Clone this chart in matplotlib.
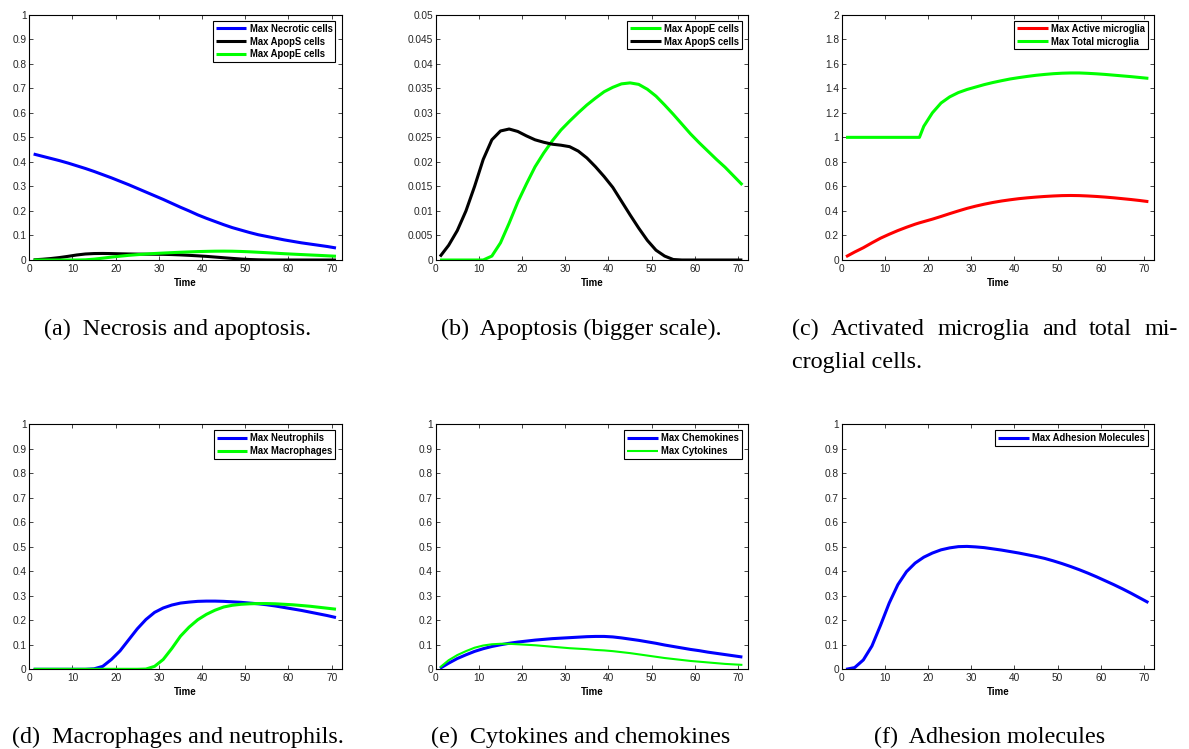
import matplotlib
matplotlib.use("Agg")
import matplotlib.pyplot as plt
from matplotlib.ticker import FixedLocator, FuncFormatter

# ---------------------------------------------------------------- data
TIME = [1, 3, 5, 7, 9, 11, 13, 15, 17, 19, 21, 23, 25, 27, 29, 31, 33, 35,
        37, 39, 41, 43, 45, 47, 49, 51, 53, 55, 57, 59, 61, 63, 65, 67, 69, 71]

# microglia series are sampled on a grid that also contains the onset day 18
MICROGLIA_TIME = [1, 3, 5, 7, 9, 11, 13, 15, 17, 18, 19, 21, 23, 25, 27, 29,
                  31, 33, 35, 37, 39, 41, 43, 45, 47, 49, 51, 53, 55, 57, 59,
                  61, 63, 65, 67, 69, 71]

NECROTIC = [0.432, 0.423, 0.414, 0.405, 0.395, 0.384, 0.373, 0.361, 0.348,
            0.335, 0.321, 0.307, 0.292, 0.277, 0.262, 0.247, 0.231, 0.215,
            0.200, 0.184, 0.170, 0.157, 0.144, 0.132, 0.122, 0.112, 0.103,
            0.096, 0.089, 0.082, 0.076, 0.070, 0.065, 0.060, 0.055, 0.049]

APOP_S = [0.0007, 0.0030, 0.0060, 0.0100, 0.0150, 0.0205, 0.0245, 0.0263,
          0.0267, 0.0262, 0.0253, 0.0245, 0.0240, 0.0236, 0.0234, 0.0231,
          0.0222, 0.0208, 0.0190, 0.0170, 0.0148, 0.0120, 0.0092, 0.0065,
          0.0040, 0.0020, 0.0008, 0.0001, 0.0, 0.0, 0.0, 0.0, 0.0, 0.0, 0.0, 0.0]

APOP_E = [0.0, 0.0, 0.0, 0.0, 0.0, 0.0, 0.0008, 0.0035, 0.0075, 0.0118,
          0.0155, 0.0190, 0.0218, 0.0243, 0.0265, 0.0283, 0.0300, 0.0316,
          0.0330, 0.0343, 0.0352, 0.0359, 0.0361, 0.0358, 0.0348, 0.0334,
          0.0316, 0.0297, 0.0277, 0.0257, 0.0239, 0.0222, 0.0205, 0.0189,
          0.0171, 0.0153]

ACTIVE_MICROGLIA = [0.027, 0.065, 0.100, 0.140, 0.178, 0.210, 0.240, 0.267,
                    0.292, 0.303, 0.313, 0.333, 0.355, 0.378, 0.400, 0.421,
                    0.439, 0.455, 0.469, 0.481, 0.491, 0.500, 0.507, 0.513,
                    0.518, 0.522, 0.525, 0.526, 0.525, 0.522, 0.518, 0.513,
                    0.507, 0.500, 0.493, 0.485, 0.476]

TOTAL_MICROGLIA = [1.0, 1.0, 1.0, 1.0, 1.0, 1.0, 1.0, 1.0, 1.0, 1.0, 1.09,
                   1.20, 1.28, 1.33, 1.365, 1.39, 1.41, 1.43, 1.447, 1.462,
                   1.476, 1.487, 1.497, 1.506, 1.513, 1.519, 1.523, 1.525,
                   1.525, 1.522, 1.518, 1.513, 1.507, 1.501, 1.495, 1.488,
                   1.481]

NEUTROPHILS = [0.0, 0.0, 0.0, 0.0, 0.0, 0.0, 0.0, 0.002, 0.012, 0.040, 0.075,
               0.120, 0.165, 0.203, 0.232, 0.250, 0.262, 0.270, 0.274, 0.277,
               0.278, 0.278, 0.277, 0.275, 0.273, 0.270, 0.267, 0.263, 0.258,
               0.252, 0.246, 0.240, 0.233, 0.226, 0.219, 0.211]

MACROPHAGES = [0.0, 0.0, 0.0, 0.0, 0.0, 0.0, 0.0, 0.0, 0.0, 0.0, 0.0, 0.0,
               0.0, 0.001, 0.012, 0.040, 0.085, 0.135, 0.172, 0.202, 0.224,
               0.241, 0.254, 0.261, 0.265, 0.267, 0.268, 0.268, 0.267, 0.265,
               0.263, 0.260, 0.257, 0.253, 0.249, 0.245]

CHEMOKINES = [0.004, 0.025, 0.044, 0.059, 0.073, 0.084, 0.093, 0.100, 0.106,
              0.111, 0.115, 0.119, 0.122, 0.125, 0.127, 0.129, 0.131, 0.133,
              0.134, 0.134, 0.132, 0.128, 0.123, 0.118, 0.112, 0.106, 0.099,
              0.093, 0.087, 0.081, 0.076, 0.070, 0.065, 0.060, 0.055, 0.050]

CYTOKINES = [0.008, 0.037, 0.058, 0.074, 0.088, 0.097, 0.102, 0.104, 0.104,
             0.102, 0.100, 0.098, 0.095, 0.092, 0.089, 0.086, 0.084, 0.082,
             0.079, 0.077, 0.074, 0.070, 0.066, 0.061, 0.056, 0.051, 0.046,
             0.042, 0.038, 0.034, 0.031, 0.028, 0.025, 0.022, 0.020, 0.018]

ADHESION = [0.0, 0.007, 0.038, 0.095, 0.180, 0.270, 0.345, 0.398, 0.433,
            0.457, 0.474, 0.487, 0.495, 0.500, 0.501, 0.499, 0.496, 0.491,
            0.486, 0.480, 0.474, 0.467, 0.460, 0.452, 0.442, 0.431, 0.419,
            0.406, 0.392, 0.377, 0.361, 0.345, 0.328, 0.310, 0.291, 0.272]

X_TICKS = [0, 10, 20, 30, 40, 50, 60, 70]
Y_TICKS_UNIT = [0, 0.1, 0.2, 0.3, 0.4, 0.5, 0.6, 0.7, 0.8, 0.9, 1]
Y_TICKS_APOP = [0, 0.005, 0.01, 0.015, 0.02, 0.025, 0.03, 0.035, 0.04, 0.045, 0.05]
Y_TICKS_MICROGLIA = [0, 0.2, 0.4, 0.6, 0.8, 1, 1.2, 1.4, 1.6, 1.8, 2]

CAPTIONS = ["(a)  Necrosis and apoptosis.",
            "(b)  Apoptosis (bigger scale).",
            None,
            "(d)  Macrophages and neutrophils.",
            "(e)  Cytokines and chemokines",
            "(f)  Adhesion molecules"]
CAPTION_C_LINE1 = ["(c)", "Activated", "microglia", "and", "total", "mi-"]
CAPTION_C_LINE2 = "croglial cells."

# ---------------------------------------------------------------- styling
W, H = 1189, 749
BLUE, GREEN, BLACK, RED = "#0000ff", "#00ff00", "#000000", "#ff0000"
TICK_FONT = dict(family="Liberation Sans", size=7.3)
LEGEND_FONT = dict(family="Liberation Sans", weight="bold", size=6.85)
CAPTION_FONT = dict(family="Liberation Serif", size=17.4)
THICK, THIN = 2.2, 1.5

fig = plt.figure(figsize=(W / 100, H / 100), dpi=100)
fig.patch.set_facecolor("white")

COL_LEFT = [29.3, 435.7, 841.7]
ROW_TOP = [14.7, 424.0]
AX_W, AX_H = 312.3, 245.3


def make_axes(col, row):
    left = COL_LEFT[col] / W
    bottom = 1 - (ROW_TOP[row] + AX_H) / H
    return fig.add_axes([left, bottom, AX_W / W, AX_H / H])


def style_axes(ax, yticks, ymax):
    ax.set_xlim(0, 72.3)
    ax.set_ylim(0, ymax)
    ax.xaxis.set_major_locator(FixedLocator(X_TICKS))
    ax.yaxis.set_major_locator(FixedLocator(yticks))
    ax.yaxis.set_major_formatter(FuncFormatter(lambda v, p: "%g" % round(v, 4)))
    ax.tick_params(direction="in", top=True, right=True, length=3.2,
                   width=0.6, colors="#262626", labelsize=TICK_FONT["size"])
    ax.tick_params(axis="x", pad=3.0)
    ax.tick_params(axis="y", pad=2.0)
    for lab in ax.get_xticklabels() + ax.get_yticklabels():
        lab.set_family(TICK_FONT["family"])
    for sp in ax.spines.values():
        sp.set_linewidth(0.8)
        sp.set_color("black")
    ax.set_xlabel("Time", family="Liberation Sans", weight="bold", size=7.0,
                  labelpad=2.5, color="black")


def add_legend(ax):
    leg = ax.legend(loc="upper right", prop=LEGEND_FONT, frameon=True,
                    fancybox=False, framealpha=1.0, edgecolor="black",
                    handlelength=3.2, handletextpad=0.35, labelspacing=0.3,
                    borderpad=0.3, borderaxespad=0.65)
    leg.get_frame().set_linewidth(0.8)
    return leg


panels = [
    (0, 0, Y_TICKS_UNIT, 1.0, TIME,
     [(NECROTIC, BLUE, THICK, "Max Necrotic cells"),
      (APOP_S, BLACK, THICK, "Max ApopS cells"),
      (APOP_E, GREEN, THICK, "Max ApopE cells")]),
    (1, 0, Y_TICKS_APOP, 0.05, TIME,
     [(APOP_E, GREEN, THICK, "Max ApopE cells"),
      (APOP_S, BLACK, THICK, "Max ApopS cells")]),
    (2, 0, Y_TICKS_MICROGLIA, 2.0, MICROGLIA_TIME,
     [(ACTIVE_MICROGLIA, RED, THICK, "Max Active microglia"),
      (TOTAL_MICROGLIA, GREEN, THICK, "Max Total microglia")]),
    (0, 1, Y_TICKS_UNIT, 1.0, TIME,
     [(NEUTROPHILS, BLUE, THICK, "Max Neutrophils"),
      (MACROPHAGES, GREEN, THICK, "Max Macrophages")]),
    (1, 1, Y_TICKS_UNIT, 1.0, TIME,
     [(CHEMOKINES, BLUE, THICK, "Max Chemokines"),
      (CYTOKINES, GREEN, THIN, "Max Cytokines")]),
    (2, 1, Y_TICKS_UNIT, 1.0, TIME,
     [(ADHESION, BLUE, THICK, "Max Adhesion Molecules")]),
]

for col, row, yticks, ymax, tvals, series in panels:
    ax = make_axes(col, row)
    for values, color, lw, label in series:
        ax.plot(tvals, values, color=color, lw=lw, label=label,
                solid_capstyle="butt", solid_joinstyle="round")
    style_axes(ax, yticks, ymax)
    leg = add_legend(ax)
    for line, (_, _, lw, _) in zip(leg.get_lines(), series):
        line.set_linewidth(lw)

# ---------------------------------------------------------------- captions
CAPTION_CENTERS = [177.5, 581.0, 990.0]
CAPTION_BASELINES = [335.0, 743.0]

for i, text in enumerate(CAPTIONS):
    if text is None:
        continue
    col, row = i % 3, i // 3
    fig.text(CAPTION_CENTERS[col] / W, 1 - CAPTION_BASELINES[row] / H, text,
             ha="center", va="baseline", **CAPTION_FONT)

# caption (c) is set as a justified paragraph over two lines
c_left, c_right = 792.0, 1178.0
renderer = fig.canvas.get_renderer()
words = [fig.text(0, 1 - CAPTION_BASELINES[0] / H, w, ha="left",
                  va="baseline", **CAPTION_FONT) for w in CAPTION_C_LINE1]
widths = [w.get_window_extent(renderer).width for w in words]
gap = (c_right - c_left - sum(widths)) / (len(words) - 1)
x = c_left
for w, wd in zip(words, widths):
    w.set_x(x / W)
    x += wd + gap
fig.text(c_left / W, 1 - (CAPTION_BASELINES[0] + 33.0) / H, CAPTION_C_LINE2,
         ha="left", va="baseline", **CAPTION_FONT)

fig.savefig("out.png", dpi=100, facecolor="white")
